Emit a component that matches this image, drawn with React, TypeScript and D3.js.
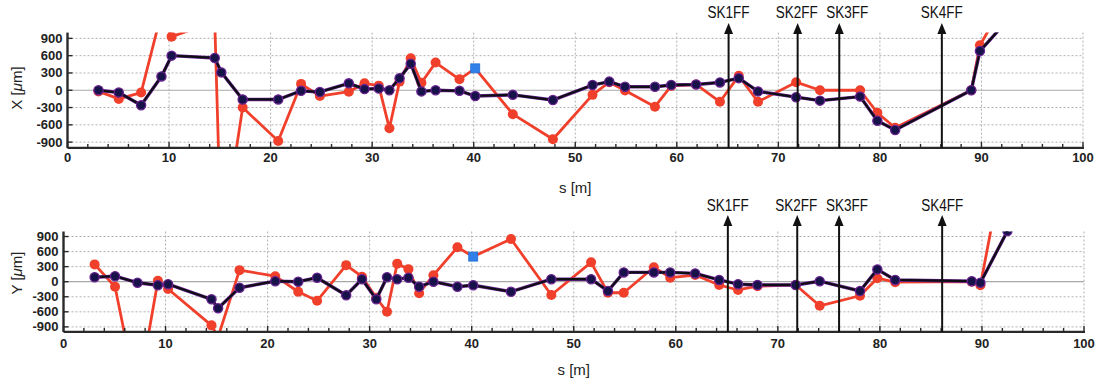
import React from 'react';
import * as d3 from 'd3';

// BPM positions along the beamline (m)
const sPos = [3.05, 5.05, 7.25, 9.25, 10.25, 14.5, 15.15, 17.25, 20.75, 23.0, 24.85, 27.7, 29.25, 30.65, 31.7, 32.7, 33.8, 34.85, 36.25, 38.6, 40.15, 43.85, 47.8, 51.7, 53.35, 54.9, 57.85, 59.45, 61.9, 64.25, 66.1, 68.0, 71.75, 74.1, 78.05, 79.75, 81.5, 89.0, 89.85, 92.5];

// Horizontal (X) orbit, µm
const xDark = [0, -40, -260, 240, 600, 560, 310, -160, -160, -10, -30, 120, 20, 30, 0, 210, 460, -20, 0, -10, -100, -80, -170, 90, 150, 60, 60, 90, 100, 135, 210, -20, -120, -180, -110, -530, -690, 0, 680, 1200];
const xRed = [-20, -150, -40, 1340, 930, 1190, -2720, -300, -880, 110, -100, -25, 120, 80, -660, 150, 555, 130, 480, 190, 380, -415, -850, -80, 140, -5, -285, 75, 100, -200, 250, -200, 140, 0, 0, -390, -650, 0, 780, 1590];

// Vertical (Y) orbit, µm
const yDark = [90, 110, -20, -70, -50, -350, -530, -120, 10, 0, 80, -270, 50, -350, 90, 50, 80, -100, 0, -100, -70, -200, 50, 50, -185, 185, 185, 185, 165, 35, -50, -65, -65, 10, -185, 245, 35, 10, -20, 1010];
const yRed = [345, -100, -2300, 20, -145, -870, -1100, 230, 110, -200, -380, 330, 100, -320, -600, 360, 250, -230, 130, 685, 500, 850, -265, 385, -220, -220, 287, 80, 133, -66, -165, -90, -65, -480, -280, 70, -10, 0, -70, 2760];

// index of the highlighted (blue square) point in the red series
const blueIndex = 20;

const skNames = ['SK1FF', 'SK2FF', 'SK3FF', 'SK4FF'];
const skPos = [65.1, 71.9, 76.0, 86.1];

const xTicks = d3.range(0, 101, 10);
const xMinorTicks = d3.range(0, 101, 2);
const yTicks = [-900, -600, -300, 0, 300, 600, 900];

const RED = '#f0402c';
const PURPLE = '#6a2290';
const NAVY = '#17124a';

type PanelProps = {
  id: string;
  axisName: string;
  dark: number[];
  red: number[];
  x0: number;
  x1: number;
  yTop: number;
  yBot: number;
  tickLabelY: number;
  sLabelY: number;
  skLabelY: number;
  arrowTip: number;
  yLabelX: number;
  yLabelY: number;
};

// small horizontal nudges so the crowded SK labels do not collide
const skLabelShift = [0, -1, 8, 0];

function Panel(p: PanelProps) {
  const x = d3.scaleLinear().domain([0, 100]).range([p.x0, p.x1]);
  const y = d3.scaleLinear().domain([-1000, 1000]).range([p.yBot, p.yTop]);
  const line = d3
    .line<number>()
    .x((_, i) => x(sPos[i]))
    .y((v) => y(v));
  const clip = `clip-${p.id}`;
  return (
    <g>
      <defs>
        <clipPath id={clip}>
          <rect x={p.x0} y={p.yTop} width={p.x1 - p.x0 + 2} height={p.yBot - p.yTop} />
        </clipPath>
      </defs>
      {/* grid */}
      {xTicks.filter((t) => t > 0).map((t) => (
        <line key={'gx' + t} x1={x(t)} x2={x(t)} y1={p.yTop} y2={p.yBot} stroke="#b0b0b0" strokeWidth={1} strokeDasharray="2,2" />
      ))}
      {yTicks.filter((t) => t !== 0).map((t) => (
        <line key={'gy' + t} x1={p.x0} x2={p.x1} y1={y(t)} y2={y(t)} stroke="#b0b0b0" strokeWidth={1} strokeDasharray="2,2" />
      ))}
      <line x1={p.x0} x2={p.x1} y1={y(0)} y2={y(0)} stroke="#a8a8a8" strokeWidth={1.2} />

      <g clipPath={`url(#${clip})`}>
        {/* red series */}
        <path d={line(p.red) || ''} fill="none" stroke={RED} strokeWidth={2.8} strokeLinejoin="round" />
        {p.red.map((v, i) =>
          i === blueIndex ? null : <circle key={'r' + i} cx={x(sPos[i])} cy={y(v)} r={5} fill={RED} />
        )}
        {/* dark series */}
        <path d={line(p.dark) || ''} fill="none" stroke={PURPLE} strokeWidth={3.4} strokeLinejoin="round" />
        <path d={line(p.dark) || ''} fill="none" stroke="#0d0d14" strokeWidth={2.2} strokeLinejoin="round" />
        {p.dark.map((v, i) => (
          <circle key={'d' + i} cx={x(sPos[i])} cy={y(v)} r={4.6} fill={NAVY} stroke={PURPLE} strokeWidth={1.3} />
        ))}
        {/* highlighted point */}
        <rect x={x(sPos[blueIndex]) - 4.5} y={y(p.red[blueIndex]) - 4.5} width={9} height={9} fill="#2f80e8" stroke="#1f6fd6" strokeWidth={0.8} />
      </g>

      {/* axes */}
      <line x1={p.x0} x2={p.x1 + 1} y1={p.yBot} y2={p.yBot} stroke="#2a2a2a" strokeWidth={2.4} />
      <line x1={p.x0} x2={p.x0} y1={p.yTop} y2={p.yBot} stroke="#2a2a2a" strokeWidth={2.4} />
      {xMinorTicks.map((t) => (
        <line key={'tx' + t} x1={x(t)} x2={x(t)} y1={p.yBot} y2={p.yBot - (t % 10 === 0 ? 6 : 4)} stroke="#2a2a2a" strokeWidth={1.4} />
      ))}
      {yTicks.map((t) => (
        <line key={'ty' + t} x1={p.x0} x2={p.x0 + 5} y1={y(t)} y2={y(t)} stroke="#2a2a2a" strokeWidth={1.4} />
      ))}
      {xTicks.map((t) => (
        <text key={'lx' + t} x={x(t)} y={p.tickLabelY} textAnchor="middle" dominantBaseline="central" fontFamily="Liberation Sans, Arial, sans-serif" fontWeight="bold" fontSize={13} fill="#222">
          {t}
        </text>
      ))}
      {yTicks.map((t) => (
        <text key={'ly' + t} x={p.x0 - 5} y={y(t)} textAnchor="end" dominantBaseline="central" fontFamily="Liberation Sans, Arial, sans-serif" fontWeight="bold" fontSize={13} fill="#222">
          {t}
        </text>
      ))}
      <text x={(p.x0 + p.x1) / 2} y={p.sLabelY} textAnchor="middle" dominantBaseline="central" fontFamily="Liberation Sans, Arial, sans-serif" fontSize={15} fill="#222">
        s [m]
      </text>
      <text transform={`translate(${p.yLabelX},${p.yLabelY}) rotate(-90)`} textAnchor="middle" dominantBaseline="central" fontFamily="Liberation Sans, Arial, sans-serif" fontSize={15} fill="#222">
        {p.axisName} [<tspan fontStyle="italic">μ</tspan>m]
      </text>

      {/* skew quad markers */}
      {skPos.map((s, i) => (
        <g key={'sk' + i}>
          <line x1={x(s)} x2={x(s)} y1={p.yBot} y2={p.arrowTip + 8} stroke="#111" strokeWidth={2} />
          <polygon points={`${x(s)},${p.arrowTip} ${x(s) - 4.5},${p.arrowTip + 11} ${x(s) + 4.5},${p.arrowTip + 11}`} fill="#111" />
          <text x={x(s) + skLabelShift[i]} y={p.skLabelY} textAnchor="middle" dominantBaseline="central" fontFamily="Liberation Sans, Arial, sans-serif" fontSize={16} textLength={42} lengthAdjust="spacingAndGlyphs" fill="#111">
            {skNames[i]}
          </text>
        </g>
      ))}
    </g>
  );
}

export default function App() {
  return (
    <svg width={1102} height={381} style={{ position: 'absolute', left: 0, top: 0, background: '#fff' }}>
      <rect width={1102} height={381} fill="#fff" />
      <Panel id="x" axisName="X" dark={xDark} red={xRed} x0={67.5} x1={1083} yTop={32.6} yBot={147.9} tickLabelY={157} sLabelY={187} skLabelY={12} arrowTip={23} yLabelX={16} yLabelY={88} />
      <Panel id="y" axisName="Y" dark={yDark} red={yRed} x0={63.5} x1={1084} yTop={231.5} yBot={331.9} tickLabelY={343} sLabelY={369} skLabelY={205} arrowTip={215} yLabelX={16} yLabelY={273} />
    </svg>
  );
}
